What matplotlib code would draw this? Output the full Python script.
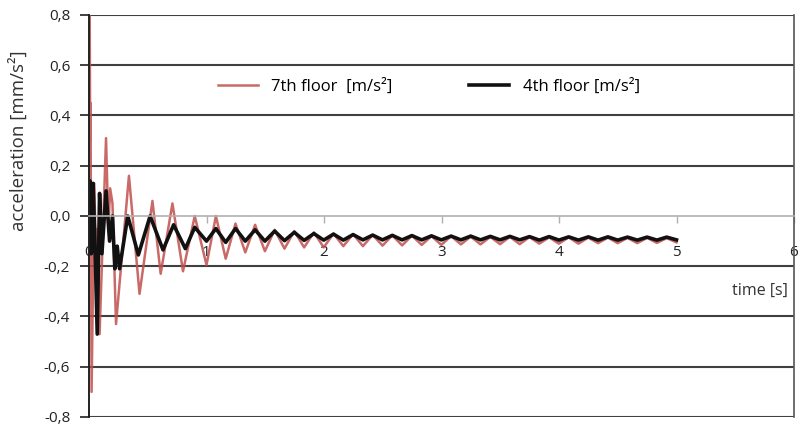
import numpy as np
import matplotlib.pyplot as plt

plt.rcParams['font.family'] = ['Open Sans', 'DejaVu Sans']

# early part of the record: turning points (time s, value)
red_early_t = [0.000, 0.006, 0.010, 0.013, 0.022, 0.045, 0.065, 0.075, 0.090, 0.145,
               0.165, 0.180, 0.200, 0.230, 0.340, 0.430, 0.540, 0.610, 0.710, 0.800,
               0.900, 1.000]
red_early_v = [-0.05, 0.80, 0.30, 0.45, -0.70, 0.13, -0.30, -0.05, -0.47, 0.31,
               -0.05, 0.11, 0.05, -0.43, 0.16, -0.31, 0.06, -0.23, 0.05, -0.22,
               0.00, -0.195]

black_early_t = [0.000, 0.008, 0.020, 0.035, 0.050, 0.070, 0.090, 0.110, 0.145, 0.175,
                 0.200, 0.220, 0.240, 0.260, 0.330, 0.420, 0.520, 0.630, 0.720, 0.820,
                 0.900, 1.000]
black_early_v = [-0.10, 0.14, -0.15, 0.13, -0.10, -0.47, 0.09, -0.15, 0.10, -0.10,
                 0.00, -0.21, -0.12, -0.21, 0.00, -0.155, 0.00, -0.135, -0.035, -0.13,
                 -0.045, -0.10]

# later part: alternating peaks / troughs, evenly spaced from 1.08 s to 5.0 s
late_start, late_end = 1.08, 5.0
red_late_v = [0.000, -0.170, -0.030, -0.145, -0.035, -0.140, -0.055, -0.130,
              -0.060, -0.125, -0.065, -0.125, -0.070, -0.120, -0.072, -0.120,
              -0.075, -0.118, -0.077, -0.117, -0.078, -0.115, -0.080, -0.115,
              -0.080, -0.113, -0.082, -0.113, -0.083, -0.112, -0.083, -0.112,
              -0.084, -0.110, -0.085, -0.110, -0.085, -0.110, -0.086, -0.108,
              -0.086, -0.108, -0.087, -0.108, -0.087, -0.107, -0.088, -0.105]
black_late_v = [-0.050, -0.105, -0.050, -0.100, -0.055, -0.100, -0.060, -0.098,
                -0.065, -0.097, -0.070, -0.096, -0.072, -0.096, -0.074, -0.095,
                -0.076, -0.095, -0.077, -0.095, -0.078, -0.095, -0.079, -0.095,
                -0.080, -0.095, -0.080, -0.095, -0.081, -0.095, -0.081, -0.095,
                -0.082, -0.096, -0.082, -0.096, -0.083, -0.096, -0.083, -0.096,
                -0.083, -0.096, -0.084, -0.096, -0.084, -0.096, -0.084, -0.095]

late_t = np.linspace(late_start, late_end, len(red_late_v))
red_t = np.concatenate([red_early_t, late_t])
red_v = np.concatenate([red_early_v, red_late_v])
black_t = np.concatenate([black_early_t, late_t])
black_v = np.concatenate([black_early_v, black_late_v])

x_ticks = [0, 1, 2, 3, 4, 5, 6]
y_ticks = [-0.8, -0.6, -0.4, -0.2, 0.0, 0.2, 0.4, 0.6, 0.8]

fig = plt.figure(figsize=(8.02, 4.29), dpi=100)
ax = fig.add_axes([89/802, 1 - 417/429, 705/802, 402/429])

for y in y_ticks:
    if y != 0:
        ax.axhline(y, color='#404040', lw=1.5, zorder=1)

ax.plot(red_t, red_v, color='#c0504d', lw=1.8, alpha=0.85, label='7th floor  [m/s²]', zorder=2)
ax.plot(black_t, black_v, color='#111111', lw=2.6, label='4th floor [m/s²]', zorder=2.1)

ax.set_xlim(0, 6)
ax.set_ylim(-0.8, 0.8)
ax.set_xticks(x_ticks)
ax.set_yticks(y_ticks)
ax.set_yticklabels([f'{v:.1f}'.replace('.', ',') for v in y_ticks])

ax.spines['bottom'].set_position(('data', 0))
ax.spines['bottom'].set_color('#b0b0b0')
ax.spines['bottom'].set_linewidth(1.2)
ax.spines['top'].set_visible(False)
ax.spines['left'].set_color('#222222')
ax.spines['left'].set_linewidth(1.4)
ax.spines['right'].set_color('#555555')
ax.spines['right'].set_linewidth(1.2)

ax.tick_params(axis='y', direction='out', length=6.5, width=1.4, color='#404040',
               pad=7, labelsize=11, labelcolor='#222222')
ax.tick_params(axis='x', direction='out', length=5, width=1.0, color='#b0b0b0',
               pad=16, labelsize=11, labelcolor='#222222')
for lbl in ax.get_xticklabels():
    lbl.set_bbox(dict(facecolor='white', edgecolor='none', pad=1.5))

ax.text(-0.101, 0.687, 'acceleration [mm/s²]', transform=ax.transAxes, rotation=90,
        ha='center', va='center', fontsize=13.5, color='#333333')
ax.text(0.9915, 0.313, 'time [s]', transform=ax.transAxes, ha='right', va='center',
        fontsize=11.5, color='#333333')

ax.legend(loc='center', bbox_to_anchor=(0.482, 0.821), ncol=2, frameon=False,
          fontsize=12, handlelength=2.4, handletextpad=0.8, columnspacing=4.6)

fig.savefig('out.png', dpi=100)
